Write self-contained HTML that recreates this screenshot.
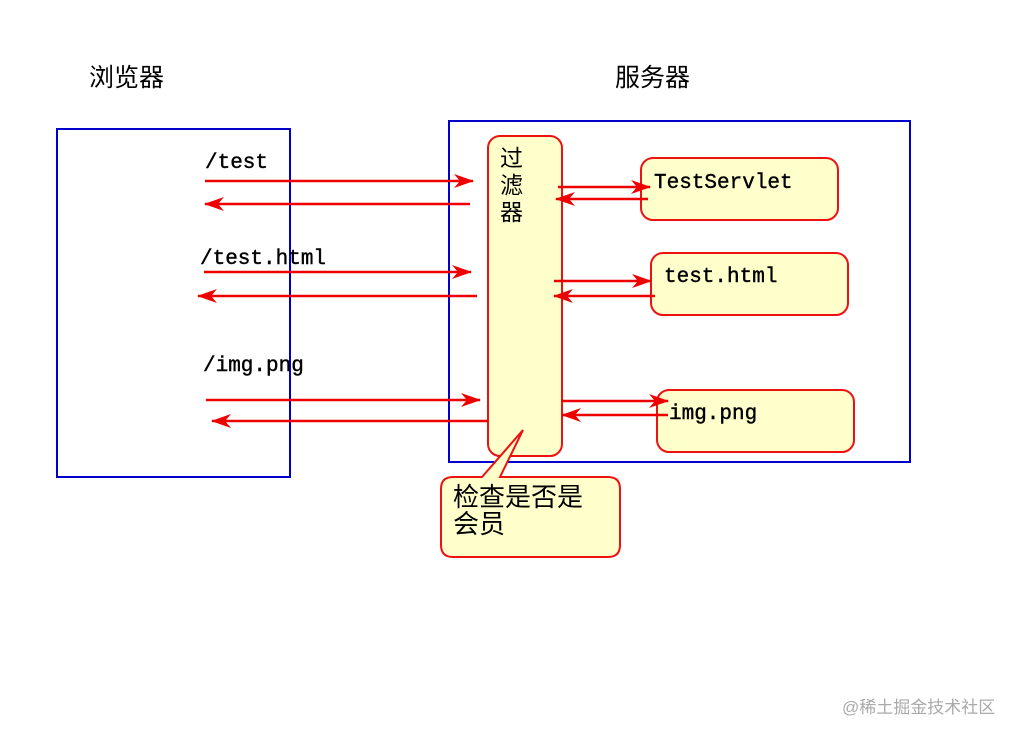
<!DOCTYPE html>
<html><head><meta charset="utf-8"><style>body{margin:0;background:#fff}svg{display:block}</style></head><body>
<svg width="1024" height="738" xmlns="http://www.w3.org/2000/svg">
<defs><marker id="a" markerWidth="20" markerHeight="14" refX="19" refY="7" orient="auto" markerUnits="userSpaceOnUse"><path d="M0,0 L20,7 L0,14 L6,7 Z" fill="#e00"/></marker></defs>
<rect x="57" y="129" width="233" height="348" fill="none" stroke="#00c" stroke-width="2"/>
<rect x="449" y="121" width="461" height="341" fill="none" stroke="#00c" stroke-width="2"/>
<g fill="#ffffcc" stroke="#e11" stroke-width="2">
<rect x="488" y="136" width="74" height="320" rx="12"/>
<rect x="641" y="158" width="197" height="62" rx="12"/>
<rect x="651" y="253" width="197" height="62" rx="12"/>
<rect x="657" y="390" width="197" height="62" rx="12"/>
<path d="M453,477 L482,477 L523,430 L500,477 L608,477 Q620,477 620,489 L620,545 Q620,557 608,557 L453,557 Q441,557 441,545 L441,489 Q441,477 453,477 Z"/>
</g>
<g stroke="#e00" stroke-width="2.5" marker-end="url(#a)">
<line x1="205" y1="181" x2="473" y2="181"/>
<line x1="470" y1="204" x2="205" y2="204"/>
<line x1="204" y1="272" x2="471" y2="272"/>
<line x1="477" y1="296" x2="198" y2="296"/>
<line x1="206" y1="400" x2="480" y2="400"/>
<line x1="488" y1="421" x2="212" y2="421"/>
<line x1="558" y1="187" x2="650" y2="187"/>
<line x1="648" y1="199" x2="556" y2="199"/>
<line x1="554" y1="281" x2="651" y2="281"/>
<line x1="655" y1="296" x2="554" y2="296"/>
<line x1="561" y1="401" x2="668" y2="401"/>
<line x1="668" y1="415" x2="562" y2="415"/>
</g>
<g font-family="'Liberation Sans','Noto Sans CJK SC',sans-serif" font-size="25" fill="#000">
<text x="89" y="86">浏览器</text>
<text x="615" y="86">服务器</text>
<text x="500" y="166" font-size="23">过</text>
<text x="500" y="193" font-size="23">滤</text>
<text x="500" y="220" font-size="23">器</text>
<text x="453" y="506" font-size="26">检查是否是</text>
<text x="453" y="533" font-size="26">会员</text>
</g>
<g font-family="'Liberation Mono',monospace" font-size="21" fill="#000" stroke="#000" stroke-width="0.4">
<text x="205" y="168">/test</text>
<text x="200" y="264">/test.html</text>
<text x="203" y="371">/img.png</text>
<text x="654" y="188">TestServlet</text>
<text x="664" y="282">test.html</text>
<text x="669" y="419">img.png</text>
</g>
<text x="842" y="713" font-family="'Liberation Sans','Noto Sans CJK SC',sans-serif" font-size="17" fill="#aaa">@稀土掘金技术社区</text>
</svg>
</body></html>
